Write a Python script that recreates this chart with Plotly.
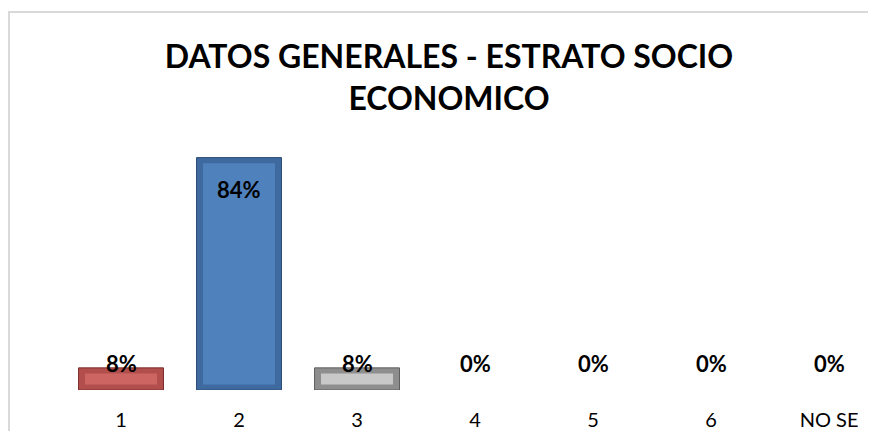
import plotly.graph_objects as go

categories = ["1", "2", "3", "4", "5", "6", "NO SE"]
values = [0.08, 0.84, 0.08, 0.0, 0.0, 0.0, 0.0]
labels = ["8%", "84%", "8%", "0%", "0%", "0%", "0%"]
edge_colors = ["#B24E4B", "#3E6AA0", "#8E8E8E", "#FFFFFF", "#FFFFFF", "#FFFFFF", "#FFFFFF"]
face_colors = ["#CD6663", "#4F81BD", "#C8C8C8", "#FFFFFF", "#FFFFFF", "#FFFFFF", "#FFFFFF"]
line_colors = ["#7A302E", "#2C4D75", "#5E5E5E", "#FFFFFF", "#FFFFFF", "#FFFFFF", "#FFFFFF"]
title_text = "DATOS GENERALES - ESTRATO SOCIO<br>ECONOMICO"

FONT = "Lato"
W, H = 860, 423          # page body has an 8px margin in the 876x439 window
BEVEL = 0.02             # bevel depth in value units
xs = list(range(len(categories)))

fig = go.Figure()
fig.add_trace(go.Bar(
    x=xs, y=values, width=0.72,
    marker=dict(color=edge_colors, line=dict(color=line_colors, width=1)),
    hoverinfo="skip",
))
inner_base = [BEVEL if v > 0 else 0 for v in values]
inner_h = [max(v - 2 * BEVEL, 0) for v in values]
fig.add_trace(go.Bar(
    x=xs, y=inner_h, base=inner_base, width=0.61,
    marker=dict(color=face_colors, line=dict(width=0)),
    hoverinfo="skip",
))

annotations = []
for i, (v, lab) in enumerate(zip(values, labels)):
    if v > 0.5:
        annotations.append(dict(x=i, y=v, xref="x", yref="y", text=f"<b>{lab}</b>",
                                showarrow=False, yanchor="middle", yshift=-32,
                                font=dict(family=FONT, size=22, color="#000000")))
    else:
        annotations.append(dict(x=i, y=0, xref="x", yref="y", text=f"<b>{lab}</b>",
                                showarrow=False, yanchor="middle", yshift=27,
                                font=dict(family=FONT, size=22, color="#000000")))

fig.update_layout(
    width=W, height=H,
    margin=dict(l=54, r=0, t=133, b=35),
    paper_bgcolor="#FFFFFF", plot_bgcolor="#FFFFFF",
    showlegend=False, barmode="overlay",
    title=dict(text=f"<b>{title_text}</b>", x=441 / W, xanchor="center", xref="container",
               y=1 - 60 / H, yanchor="middle", yref="container",
               font=dict(family=FONT, size=32, color="#000000")),
    xaxis=dict(range=[-0.5, 6.33], tickmode="array", tickvals=xs,
               ticktext=categories, showgrid=False, zeroline=False, showline=False,
               ticks="", ticklabelstandoff=16,
               tickfont=dict(family=FONT, size=20, color="#000000")),
    yaxis=dict(range=[0, 0.9], visible=False, showgrid=False, zeroline=False),
    annotations=annotations,
    shapes=[dict(type="rect", xref="paper", yref="paper", x0=-53 / 806, x1=1.05,
                 y0=-0.5, y1=387 / 255, line=dict(color="#D9D9D9", width=2),
                 fillcolor="rgba(0,0,0,0)", layer="below")],
)

fig.write_html("out.html")
